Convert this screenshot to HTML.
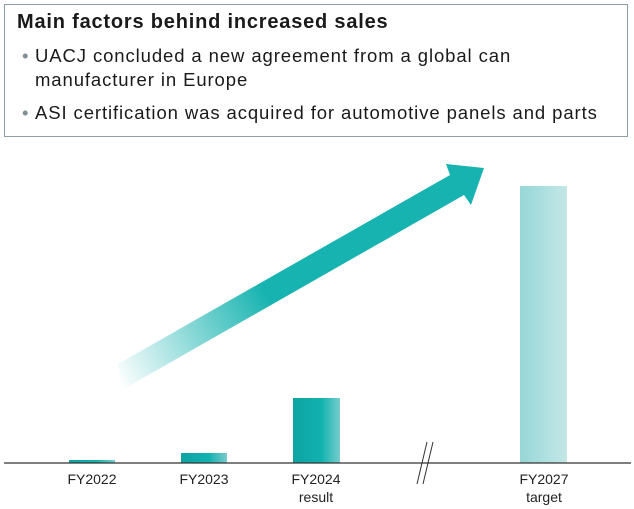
<!DOCTYPE html>
<html><head><style>
body{margin:0;width:634px;height:509px;background:#fff;overflow:hidden;font-family:"Liberation Sans",sans-serif;}
.box{position:absolute;left:4px;top:4px;width:624px;height:133px;border:1.5px solid #8e9ea4;box-sizing:border-box;}
.t{position:absolute;white-space:nowrap;color:#1a1a1a;}
</style></head><body>
<div class="box"></div>
<div class="t" style="left:17px;top:11px;font-size:20px;font-weight:bold;letter-spacing:0.8px;">Main factors behind increased sales</div>
<div class="t" style="left:22px;top:44px;font-size:18.5px;line-height:24px;"><span style="color:#7d8e94;">•</span></div>
<div class="t" style="left:35px;top:44px;font-size:18.5px;line-height:24px;letter-spacing:0.9px;">UACJ concluded a new agreement from a global can<br>manufacturer in Europe</div>
<div class="t" style="left:22px;top:101px;font-size:18.5px;line-height:24px;"><span style="color:#7d8e94;">•</span></div>
<div class="t" style="left:35px;top:101px;font-size:18.5px;line-height:24px;letter-spacing:0.9px;">ASI certification was acquired for automotive panels and parts</div>
<svg width="634" height="509" style="position:absolute;left:0;top:0">
<defs>
<linearGradient id="ar" gradientUnits="userSpaceOnUse" x1="120" y1="385" x2="270" y2="300">
<stop offset="0" stop-color="#17b3b0" stop-opacity="0"/><stop offset="1" stop-color="#17b3b0"/></linearGradient>
<linearGradient id="b" x1="0" x2="1"><stop offset="0" stop-color="#0ea3a3"/><stop offset="0.6" stop-color="#10b2b0"/><stop offset="1" stop-color="#78cccc"/></linearGradient>
<linearGradient id="b2" x1="0" x2="1"><stop offset="0" stop-color="#96d7d7"/><stop offset="1" stop-color="#c4e7e7"/></linearGradient>
</defs>
<polygon points="118,364 450,175 446,164 484,168 471,205 464,195 122,390" fill="url(#ar)"/>
<rect x="69" y="460" width="46" height="3" fill="url(#b)"/>
<rect x="181" y="453" width="46" height="10" fill="url(#b)"/>
<rect x="293" y="398" width="47" height="65" fill="url(#b)"/>
<rect x="520" y="186" width="47" height="277" fill="url(#b2)"/>
<line x1="4" y1="463" x2="631" y2="463" stroke="#333" stroke-width="1.3"/>
<line x1="417" y1="484" x2="427" y2="442" stroke="#333" stroke-width="1"/>
<line x1="423" y1="484" x2="433" y2="442" stroke="#333" stroke-width="1"/>
<g font-size="14" fill="#222" text-anchor="middle" font-family="Liberation Sans,sans-serif">
<text x="92" y="484">FY2022</text>
<text x="204" y="484">FY2023</text>
<text x="316" y="484">FY2024</text>
<text x="316" y="502">result</text>
<text x="544" y="484">FY2027</text>
<text x="544" y="502">target</text>
</g>
</svg>
</body></html>
